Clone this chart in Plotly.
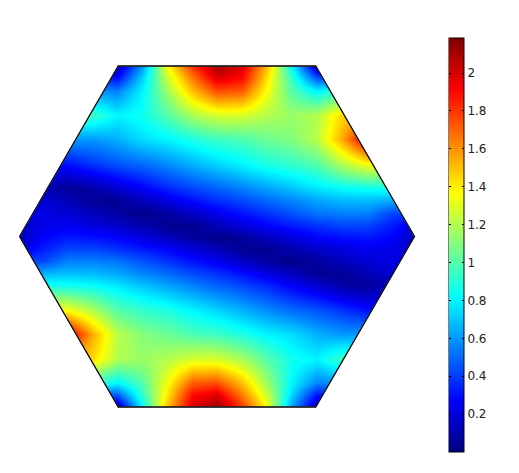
import plotly.graph_objects as go

W, H = 503, 457   # page body keeps an 8px margin inside the 519x473 window
OFF = 8

x_grid = [-200, -175, -150, -125, -100, -75, -50, -25, 0, 25, 50, 75, 100, 125, 150, 175, 200]
y_grid = [170.5, 158.5, 146, 122, 97.5, 73, 48.5, 36.5, 24, 12, 0,
          -12, -24, -36.5, -48.5, -73, -97.5, -122, -146, -158.5, -170.5]

z_r0 = [.12, .12, .12, .12, .12, .6, 1.35, 1.8, 2.12, 1.98, 1.5, .8, .12, .12, .12, .12, .12]
z_r1 = [.4, .4, .4, .4, .3, .72, 1.25, 1.65, 1.98, 1.9, 1.42, .92, .45, .45, .45, .45, .45]
z_r2 = [.6, .6, .6, .6, .55, .8, 1.15, 1.5, 1.75, 1.72, 1.35, 1.0, .8, .95, .95, .95, .95]
z_r3 = [.95, .95, .95, .95, .8, .85, 1.0, 1.18, 1.28, 1.28, 1.2, 1.15, 1.2, 1.45, 1.45, 1.45, 1.45]
z_r4 = [.6, .6, .6, .6, .65, .75, .8, .88, .95, .98, 1.05, 1.1, 1.22, 1.55, 2.0, 2.0, 2.0]
z_r5 = [.3, .3, .3, .38, .45, .5, .57, .65, .73, .8, .88, .93, 1.0, 1.2, 1.35, 1.35, 1.35]
z_r6 = [.12, .12, .05, .08, .17, .26, .35, .42, .48, .55, .62, .69, .77, .82, .85, .85, .85]
z_r7 = [.18, .18, .12, .05, .04, .13, .21, .3, .37, .43, .5, .56, .63, .67, .68, .65, .65]
z_r8 = [.2, .22, .18, .13, .07, .02, .07, .15, .24, .31, .38, .45, .52, .55, .55, .42, .42]
z_r9 = [.15, .22, .24, .2, .16, .1, .04, .04, .12, .2, .27, .33, .38, .42, .42, .33, .2]
z_r10 = [.1, .27, .32, .3, .27, .2, .13, .06, .02, .06, .13, .2, .27, .3, .32, .27, .1]
z_r11 = [.2, .33, .42, .42, .38, .33, .27, .2, .12, .04, .04, .1, .16, .2, .24, .22, .15]
z_r12 = [.42, .42, .55, .55, .52, .45, .38, .31, .24, .15, .07, .02, .07, .13, .18, .22, .2]
z_r13 = [.65, .65, .68, .67, .63, .56, .5, .43, .37, .3, .21, .13, .04, .05, .12, .18, .18]
z_r14 = [.85, .85, .85, .82, .77, .69, .62, .55, .48, .42, .35, .26, .17, .08, .05, .12, .12]
z_r15 = [1.35, 1.35, 1.35, 1.2, 1.0, .93, .88, .8, .73, .65, .57, .5, .45, .38, .3, .3, .3]
z_r16 = [2.0, 2.0, 2.0, 1.55, 1.22, 1.1, 1.05, .98, .95, .88, .8, .75, .65, .6, .6, .6, .6]
z_r17 = [1.45, 1.45, 1.45, 1.45, 1.2, 1.15, 1.2, 1.28, 1.28, 1.18, 1.0, .85, .8, .95, .95, .95, .95]
z_r18 = [.95, .95, .95, .95, .8, 1.0, 1.35, 1.72, 1.75, 1.5, 1.15, .8, .55, .6, .6, .6, .6]
z_r19 = [.45, .45, .45, .45, .45, .92, 1.42, 1.9, 1.98, 1.65, 1.25, .72, .3, .4, .4, .4, .4]
z_r20 = [.12, .12, .12, .12, .12, .8, 1.5, 1.98, 2.12, 1.8, 1.35, .6, .12, .12, .12, .12, .12]

hex_x = [-197.5, -98.75, 98.75, 197.5, 98.75, -98.75, -197.5]
hex_y = [0, 170.5, 170.5, 0, -170.5, -170.5, 0]

# outer frame of the white cover, then the hexagon as its inner boundary
frame_x = [-240, -240, 240, 240, -240, -240] + hex_x[::-1]
frame_y = [0, 210, 210, -210, -210, 0] + hex_y[::-1]

tick_vals = [0.2, 0.4, 0.6, 0.8, 1, 1.2, 1.4, 1.6, 1.8, 2]
z_min, z_max = 0.0, 2.185

jet = [[0, "rgb(0,0,128)"], [0.125, "rgb(0,0,255)"], [0.375, "rgb(0,255,255)"],
       [0.625, "rgb(255,255,0)"], [0.875, "rgb(255,0,0)"], [1, "rgb(128,0,0)"]]

z = [z_r0, z_r1, z_r2, z_r3, z_r4, z_r5, z_r6, z_r7, z_r8, z_r9, z_r10,
     z_r11, z_r12, z_r13, z_r14, z_r15, z_r16, z_r17, z_r18, z_r19, z_r20]

fig = go.Figure()
fig.add_trace(go.Heatmap(
    x=x_grid, y=y_grid, z=z, zsmooth="best", zmin=z_min, zmax=z_max, colorscale=jet,
    hoverinfo="skip",
    colorbar=dict(
        thicknessmode="pixels", thickness=15, lenmode="pixels", len=414,
        x=(449 - OFF) / W, xanchor="left", y=(H - (452 - OFF)) / H, yanchor="bottom",
        xpad=0, ypad=0, outlinecolor="black", outlinewidth=1,
        ticks="inside", ticklen=2, tickcolor="black", tickwidth=1,
        tickmode="array", tickvals=tick_vals, tickprefix="\u00a0",
        tickfont=dict(family="DejaVu Sans", size=12, color="#222222"),
    ),
))

# second, hairline colour bar: only supplies the tick marks on the bar's left side
fig.add_trace(go.Heatmap(
    x=[1000, 1001], y=[1000, 1001], z=[[z_min, z_max], [z_max, z_min]], zmin=z_min, zmax=z_max,
    colorscale=jet, hoverinfo="skip",
    colorbar=dict(
        thicknessmode="pixels", thickness=0.01, lenmode="pixels", len=414,
        x=(449 - OFF) / W, xanchor="left", y=(H - (452 - OFF)) / H, yanchor="bottom",
        xpad=0, ypad=0, outlinewidth=0,
        ticks="outside", ticklen=2, tickcolor="black", tickwidth=1,
        tickmode="array", tickvals=tick_vals, showticklabels=False,
    ),
))

fig.add_trace(go.Scatter(x=frame_x, y=frame_y, mode="lines", fill="toself", fillcolor="white",
                         line=dict(width=1, color="white"), hoverinfo="skip", showlegend=False))
fig.add_trace(go.Scatter(x=hex_x, y=hex_y, mode="lines", line=dict(color="black", width=1.3),
                         cliponaxis=False, hoverinfo="skip", showlegend=False))

# axis window beyond the hexagon and beyond the heatmap image on every side
x_pad, y_pad = 18, 18
px_left, px_right = 19.5 - OFF - x_pad, 414.5 - OFF + x_pad
px_top, px_bot = 66 - OFF - y_pad, 407 - OFF + y_pad
fig.update_layout(
    width=W, height=H, margin=dict(l=0, r=0, t=0, b=0),
    paper_bgcolor="white", plot_bgcolor="white", showlegend=False,
    xaxis=dict(domain=[max(px_left, 0) / W, px_right / W], range=[-197.5 - min(x_pad, 19.5 - OFF), 197.5 + x_pad], visible=False),
    yaxis=dict(domain=[(H - px_bot) / H, (H - px_top) / H], range=[-170.5 - y_pad, 170.5 + y_pad], visible=False),
)
fig.write_html("out.html")
